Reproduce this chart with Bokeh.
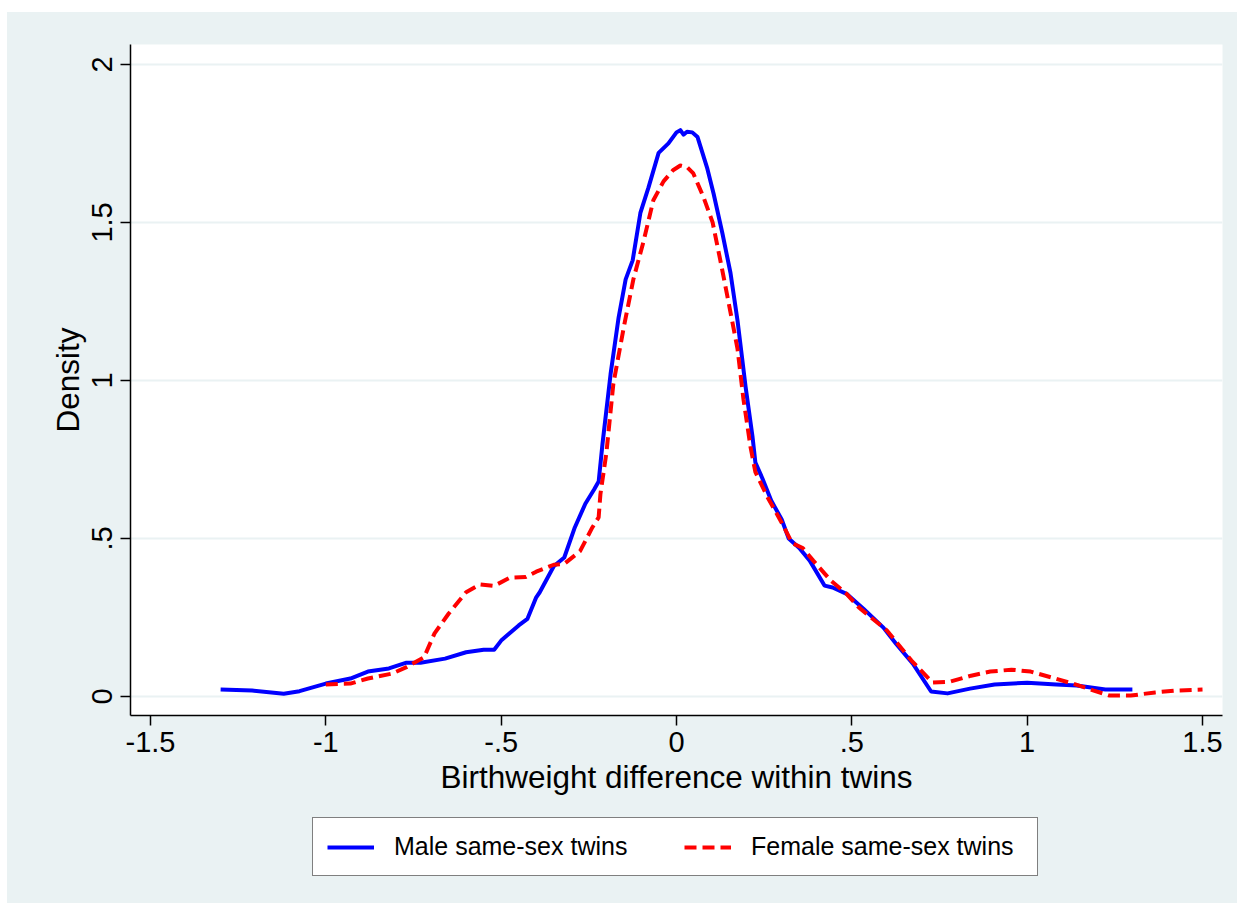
from bokeh.plotting import figure
from bokeh.layouts import column
from bokeh.models import Range1d, FixedTicker, Legend, LegendItem
from bokeh.embed import file_html
from bokeh.resources import INLINE

# ---- data ----
male_x = [-1.30, -1.21, -1.12, -1.075, -1.0, -0.93, -0.88, -0.82, -0.77, -0.73, -0.66, -0.60,
          -0.55, -0.52, -0.50, -0.45, -0.425, -0.40, -0.39, -0.35, -0.32, -0.29, -0.26, -0.235,
          -0.222, -0.211, -0.188, -0.165, -0.145, -0.125, -0.103, -0.08, -0.051, -0.023, 0.0,
          0.011, 0.02, 0.03, 0.045, 0.06, 0.088, 0.106, 0.131, 0.154, 0.174, 0.197, 0.217,
          0.225, 0.245, 0.27, 0.30, 0.32, 0.35, 0.38, 0.422, 0.445, 0.485, 0.533, 0.59, 0.626,
          0.674, 0.726, 0.773, 0.837, 0.907, 1.0, 1.083, 1.141, 1.223, 1.30]
male_y = [0.022, 0.019, 0.009, 0.017, 0.041, 0.057, 0.079, 0.089, 0.107, 0.107, 0.12, 0.14,
          0.148, 0.148, 0.177, 0.225, 0.246, 0.314, 0.33, 0.412, 0.44, 0.535, 0.61, 0.655,
          0.68, 0.80, 1.02, 1.20, 1.32, 1.38, 1.53, 1.61, 1.72, 1.75, 1.785,
          1.792, 1.778, 1.787, 1.785, 1.77, 1.67, 1.59, 1.465, 1.34, 1.19, 0.98, 0.82,
          0.74, 0.69, 0.62, 0.56, 0.50, 0.47, 0.43, 0.351, 0.345, 0.325, 0.278, 0.218, 0.167,
          0.104, 0.016, 0.01, 0.025, 0.038, 0.044, 0.038, 0.035, 0.022, 0.022]

female_x = [-1.0, -0.93, -0.88, -0.81, -0.77, -0.72, -0.69, -0.65, -0.60, -0.56, -0.52, -0.475,
            -0.43, -0.40, -0.35, -0.32, -0.275, -0.24, -0.222, -0.217, -0.20, -0.18, -0.15,
            -0.123, -0.094, -0.066, -0.037, -0.01, 0.011, 0.03, 0.048, 0.077, 0.103, 0.125,
            0.148, 0.174, 0.191, 0.211, 0.225, 0.26, 0.30, 0.33, 0.36, 0.39, 0.44, 0.485, 0.52,
            0.60, 0.67, 0.73, 0.78, 0.84, 0.895, 0.955, 1.01, 1.07, 1.13, 1.19, 1.235, 1.295,
            1.365, 1.425, 1.50]
female_y = [0.038, 0.041, 0.057, 0.073, 0.093, 0.124, 0.2, 0.262, 0.33, 0.355, 0.35, 0.376,
            0.378, 0.395, 0.417, 0.42, 0.46, 0.535, 0.567, 0.64, 0.77, 0.99, 1.17,
            1.32, 1.44, 1.57, 1.63, 1.665, 1.68, 1.675, 1.655, 1.58, 1.5, 1.38,
            1.25, 1.1, 0.94, 0.79, 0.71, 0.63, 0.55, 0.485, 0.47, 0.43, 0.367, 0.325, 0.282,
            0.209, 0.114, 0.044, 0.047, 0.066, 0.079, 0.085, 0.079, 0.06, 0.041, 0.019, 0.003, 0.003,
            0.013, 0.019, 0.022]

x_ticks = [-1.5, -1.0, -0.5, 0.0, 0.5, 1.0, 1.5]
x_tick_labels = ["-1.5", "-1", "-.5", "0", ".5", "1", "1.5"]
y_ticks = [0.0, 0.5, 1.0, 1.5, 2.0]
y_tick_labels = ["0", ".5", "1", "1.5", "2"]

series_labels = ["Male same-sex twins", "Female same-sex twins"]
x_title = "Birthweight difference within twins"
y_title = "Density"

# ---- styling ----
BG = "#EAF2F3"
FONT = "Liberation Sans"
BLUE = "#0000FF"
RED = "#FF0000"
DASH = "12 6"

p = figure(width=1230, height=804, output_backend="svg", toolbar_location=None,
           x_range=Range1d(-1.557, 1.557), y_range=Range1d(-0.060, 2.063),
           min_border_left=123, min_border_right=15, min_border_top=32, min_border_bottom=101)
p.background_fill_color = "white"
p.border_fill_color = BG
p.outline_line_color = None

p.xgrid.visible = False
p.ygrid.grid_line_color = BG
p.ygrid.grid_line_width = 2
p.ygrid.ticker = FixedTicker(ticks=y_ticks)

for ax in (p.xaxis[0], p.yaxis[0]):
    ax.axis_line_color = "black"
    ax.axis_line_width = 1.5
    ax.major_tick_line_color = "black"
    ax.major_tick_line_width = 1.5
    ax.major_tick_out = 10
    ax.major_tick_in = 0
    ax.minor_tick_line_color = None
    ax.major_label_text_font = FONT
    ax.major_label_text_font_size = "29px"
    ax.major_label_text_color = "black"
    ax.axis_label_text_font = FONT
    ax.axis_label_text_font_size = "31.5px"
    ax.axis_label_text_font_style = "normal"
    ax.axis_label_text_color = "black"

p.xaxis.ticker = FixedTicker(ticks=x_ticks)
p.xaxis.major_label_overrides = {t: l for t, l in zip(x_ticks, x_tick_labels)}
p.xaxis.axis_label = x_title
p.xaxis.major_label_standoff = 6
p.xaxis.axis_label_standoff = 4

p.yaxis.ticker = FixedTicker(ticks=y_ticks)
p.yaxis.major_label_overrides = {t: l for t, l in zip(y_ticks, y_tick_labels)}
p.yaxis.major_label_orientation = "vertical"
p.yaxis.axis_label = y_title
p.yaxis.major_label_standoff = 8
p.yaxis.axis_label_standoff = 4

p.line(male_x, male_y, line_color=BLUE, line_width=4, line_join="round")
p.line(female_x, female_y, line_color=RED, line_width=4, line_dash=DASH)

# ---- legend strip below the plot (its frame is aligned with the plot's frame) ----
pl = figure(width=1230, height=87, output_backend="svg", toolbar_location=None,
            x_axis_location=None, y_axis_location=None,
            x_range=Range1d(100, 101), y_range=Range1d(100, 101),
            min_border_left=123, min_border_right=15, min_border_top=0, min_border_bottom=0)
pl.background_fill_alpha = 0
pl.border_fill_color = BG
pl.outline_line_color = None
pl.xgrid.visible = False
pl.ygrid.visible = False

# the same series, drawn outside this strip's ranges, so only their legend samples show
lm = pl.line(male_x, male_y, line_color=BLUE, line_width=4)
lf = pl.line(female_x, female_y, line_color=RED, line_width=4, line_dash=DASH)

legend = Legend(items=[LegendItem(label=series_labels[0], renderers=[lm]),
                       LegendItem(label=series_labels[1], renderers=[lf])],
                orientation="horizontal", location=(182, 27),
                label_text_font=FONT, label_text_font_size="25px", label_text_color="black",
                glyph_width=47, glyph_height=20, label_standoff=20, spacing=18,
                label_width=272, padding=14, margin=0,
                border_line_color="black", border_line_width=1.5,
                background_fill_color="white", background_fill_alpha=1.0)
pl.add_layout(legend, "center")

layout = column(p, pl, spacing=0)
layout.margin = (12, 0, 0, 7)
layout.styles = {"background-color": BG}
open("out.html", "w").write(file_html(layout, INLINE))
